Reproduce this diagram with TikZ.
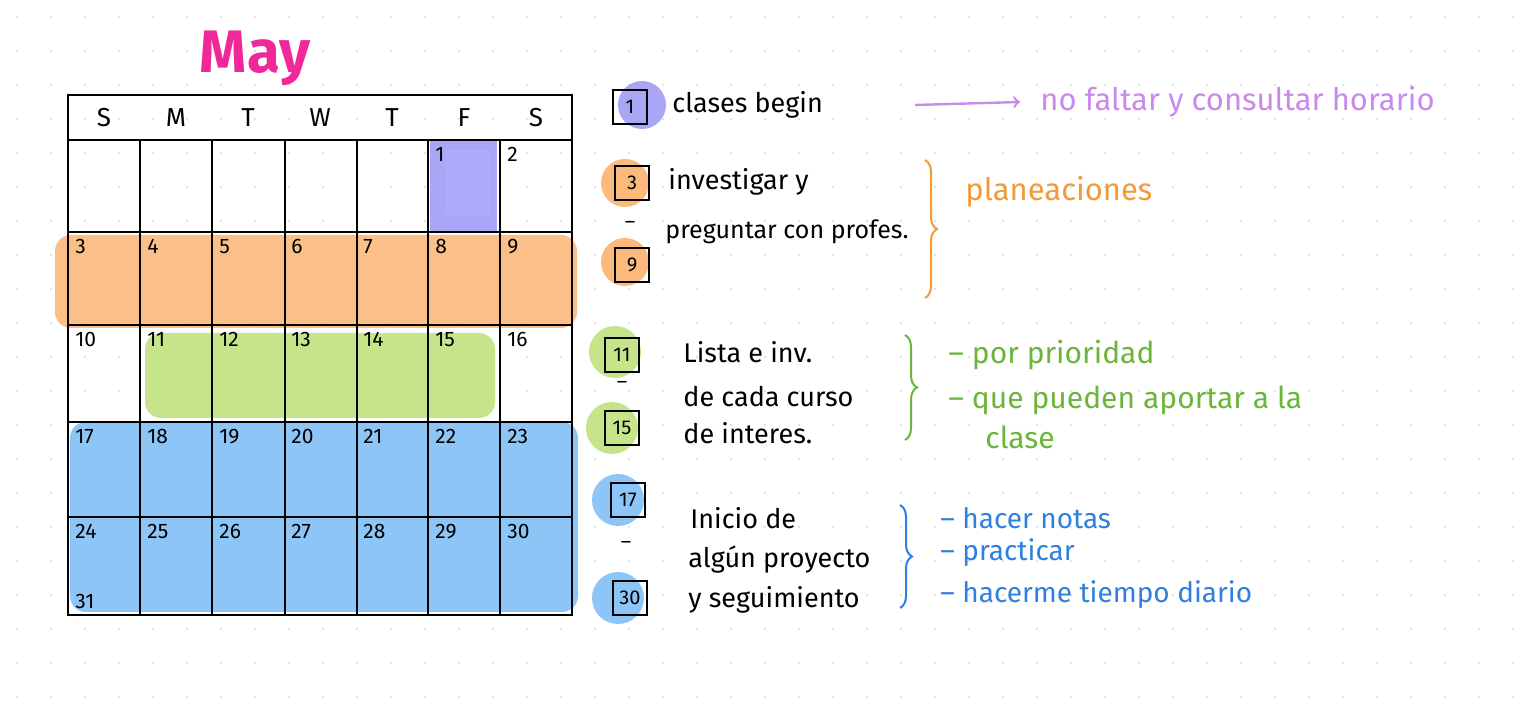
\documentclass[tikz,border=0pt]{standalone}
\usepackage{fontspec}
\setmainfont{Fira Sans}
\usetikzlibrary{decorations.pathreplacing}
\definecolor{hlpur}{HTML}{A9A6F5}
\definecolor{hlor}{HTML}{FBBA7C}
\definecolor{hlgr}{HTML}{C6E58A}
\definecolor{hlbl}{HTML}{8EC5F7}
\definecolor{tor}{HTML}{F29A3A}
\definecolor{tgr}{HTML}{6BB63A}
\definecolor{tbl}{HTML}{2F7FE0}
\definecolor{tpu}{HTML}{C98BEA}
\definecolor{mag}{HTML}{F0289A}
\begin{document}
\begin{tikzpicture}[x=0.5pt,y=-0.5pt,
  num/.style={anchor=north west,font=\fontsize{10.5}{10}\selectfont,inner sep=1pt},
  hd/.style={font=\fontsize{13}{13}\selectfont},
  txt/.style={anchor=west,font=\fontsize{13.5}{14}\selectfont,inner sep=0pt},
  dbox/.style={draw,line width=1.2pt,minimum size=17pt,font=\fontsize{10}{10}\selectfont,inner sep=0pt},
  br/.style={decorate,decoration={brace,amplitude=6pt},line width=1pt}]
\useasboundingbox (0,0) rectangle (1536,704);
\fill[white] (0,0) rectangle (1536,704);
\foreach \i in {0,...,45}{\foreach \j in {0,...,20}{\fill[gray!30] (17+\i*34,17+\j*34) circle (0.6pt);}}
% highlights
\fill[hlor,opacity=.9,rounded corners=8pt] (55,235) rectangle (577,328);
\fill[hlgr,rounded corners=8pt] (145,333) rectangle (495,418);
\fill[hlbl,rounded corners=8pt] (70,422) rectangle (578,612);
\fill[hlpur] (430,140) rectangle (497,232);
\fill[hlpur!70!blue!60] (445,150) rectangle (490,215);
% grid
\draw[line width=1.2pt] (68,95) rectangle (572,615);
\foreach \y in {140,232,325,422,517}{\draw[line width=1.1pt] (68,\y) -- (572,\y);}
\foreach \x in {140,212,285,357,428,500}{\draw[line width=1.1pt] (\x,140) -- (\x,615);}
\foreach \l [count=\k] in {S,M,T,W,T,F,S}{\node[hd] (h\k) at ({68+72*(\k-0.5)},118) {\l};}
\node[font=\fontsize{30}{30}\selectfont\bfseries,text=mag] (may) at (255,58) {May};
\foreach \r/\y in {0/140,1/232,2/325,3/422,4/517}{
  \foreach \c in {0,...,6}{
    \pgfmathtruncatemacro{\d}{\r*7+\c-4}
    \ifnum\d>0 \ifnum\d<31 \node[num] (d\d) at ({73+72*\c},\y+5) {\d};\fi\fi}}
\node[num] (d31) at (73,592) {31};
% legend
\fill[hlpur] (642,105) circle (12pt);
\node[dbox] (b1) at (630,107) {1};
\node[txt] (t1) at (672,105) {clases begin};
\node[txt,text=tpu,font=\fontsize{15.5}{16}\selectfont] (n1) at (1040,102) {no faltar y consultar horario};
\coordinate (a0) at (915,105);
\draw[tpu,line width=1.2pt,->] (a0) -- ([xshift=-10pt]n1.west);
\fill[hlor] (625,183) circle (12pt);
\node[dbox] (b3) at (632,183) {3};
\node (m1) at (630,225) {--};
\fill[hlor] (625,262) circle (12pt);
\node[dbox] (b9) at (632,265) {9};
\node[txt] (t3) at (668,182) {investigar y};
\node[txt,font=\fontsize{12.5}{13}\selectfont] (t3b) at (665,232) {preguntar con profes.};
\draw[br,tor] (925,160) -- (925,298);
\node[txt,text=tor,font=\fontsize{15.5}{16}\selectfont] (pl) at (965,192) {planeaciones};
\fill[hlgr] (615,352) circle (13pt);
\node[dbox] (b11) at (622,355) {11};
\node (m2) at (622,385) {--};
\fill[hlgr] (612,428) circle (13pt);
\node[dbox] (b15) at (622,428) {15};
\node[txt] (t4) at (683,352) {Lista e inv.};
\node[txt] (t4b) at (683,397) {de cada curso};
\node[txt] (t4c) at (683,433) {de interes.};
\draw[br,tgr] (905,335) -- (905,440);
\node[txt,text=tgr,font=\fontsize{15}{16}\selectfont] (g1) at (948,355) {-- por prioridad};
\node[txt,text=tgr,font=\fontsize{15}{16}\selectfont] (g2) at (948,400) {-- que pueden aportar a la};
\node[txt,text=tgr,font=\fontsize{15}{16}\selectfont] (g3) at (985,437) {clase};
\fill[hlbl] (618,500) circle (13pt);
\node[dbox] (b17) at (628,500) {17};
\node (m3) at (626,545) {--};
\fill[hlbl] (618,598) circle (13pt);
\node[dbox] (b30) at (630,598) {30};
\node[txt] (t5) at (690,518) {Inicio de};
\node[txt] (t5b) at (688,560) {algún proyecto};
\node[txt] (t5c) at (688,600) {y seguimiento};
\draw[br,tbl] (900,505) -- (900,608);
\node[txt,text=tbl,font=\fontsize{14}{15}\selectfont] (bl1) at (940,518) {-- hacer notas};
\node[txt,text=tbl,font=\fontsize{14}{15}\selectfont] (bl2) at (940,553) {-- practicar};
\node[txt,text=tbl,font=\fontsize{14}{15}\selectfont] (bl3) at (940,595) {-- hacerme tiempo diario};
\end{tikzpicture}
\end{document}
